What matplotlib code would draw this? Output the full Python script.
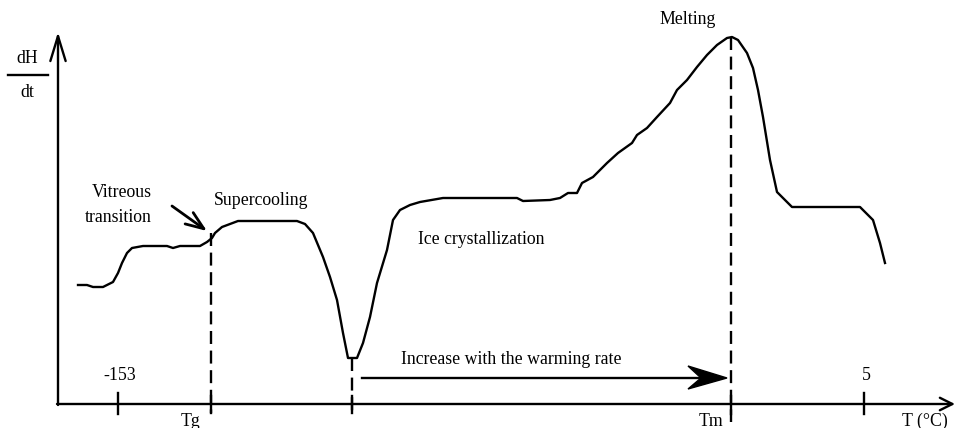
import matplotlib
matplotlib.use("Agg")
import matplotlib.pyplot as plt
from matplotlib.patches import Polygon

plt.rcParams['font.family'] = ['Liberation Serif', 'DejaVu Serif']

# schematic DSC curve (drawing coordinates: x to the right, y downward)
curve_x = [78, 87, 93, 103, 113, 118, 122, 127, 132, 143, 167, 173, 180, 200, 207,
           212, 215, 222, 230, 238, 297, 305, 313, 323, 330, 337, 343, 348, 357,
           363, 370, 377, 387, 393, 400, 410, 420, 443, 517, 523, 550, 560, 568,
           577, 582, 593, 607, 618, 632, 637, 647, 657, 670, 677, 687, 697, 707,
           717, 727, 732, 738, 747, 753, 758, 763, 770, 777, 792, 860, 873, 880, 885]
curve_y = [285, 285, 287, 287, 282, 273, 263, 253, 248, 246, 246, 248, 246, 246, 242,
           238, 233, 227, 224, 221, 221, 224, 233, 257, 277, 300, 333, 358, 358,
           343, 317, 283, 250, 220, 210, 205, 202, 198, 198, 201, 200, 198, 193,
           193, 183, 177, 163, 153, 143, 135, 128, 117, 103, 90, 80, 67, 55,
           45, 38, 37, 40, 53, 68, 90, 117, 160, 192, 207, 207, 220, 243, 263]

# axis geometry
x0, y0 = 58, 404
x_end, y_top = 955, 32

# solid ticks with labels above
tick_x = [118, 864]
tick_labels = ["-153", "5"]
# dashed marker lines
marker_x = [211, 352, 731]
marker_y0 = [233, 358, 37]
marker_y1 = [413, 413, 422]
marker_labels = ["Tg", "", "Tm"]
marker_label_dx = [-20, 0, -20]

fig = plt.figure(figsize=(9.56, 4.28), dpi=100)
ax = fig.add_axes([0, 0, 1, 1])
ax.set_xlim(0, 956)
ax.set_ylim(428, 0)
ax.axis('off')

lw = 1.7
fs = 12.8

# axes with open arrow heads
ax.annotate("", xy=(x0, y_top), xytext=(x0, y0 + 1),
            arrowprops=dict(arrowstyle="->,head_length=1.8,head_width=0.55",
                            lw=lw, color='black', shrinkA=0, shrinkB=0))
ax.annotate("", xy=(x_end, y0), xytext=(x0 - 1, y0),
            arrowprops=dict(arrowstyle="->,head_length=0.9,head_width=0.45",
                            lw=lw, color='black', shrinkA=0, shrinkB=0))

# curve
ax.plot(curve_x, curve_y, color='black', lw=lw, solid_joinstyle='round')

# ticks
for tx, tl in zip(tick_x, tick_labels):
    ax.plot([tx, tx], [y0 - 11, y0 + 10], color='black', lw=lw)
    ax.text(tx + 2, y0 - 28, tl, ha='center', va='center', fontsize=fs)

# dashed markers
for mx, my0, my1 in zip(marker_x, marker_y0, marker_y1):
    ax.plot([mx, mx], [my0, my1], color='black', lw=lw, linestyle=(0, (5.5, 2.8)))
    ax.plot([mx, mx], [y0 - 8, my1 if my1 < 420 else y0 + 10], color='black', lw=lw)
for mx, ml, dx in zip(marker_x, marker_labels, marker_label_dx):
    if ml:
        ax.text(mx + dx, 421, ml, ha='center', va='center', fontsize=fs)

# dH/dt label
ax.text(27, 58, "dH", ha='center', va='center', fontsize=fs)
ax.plot([8, 48], [75, 75], color='black', lw=lw)
ax.text(27, 92, "dt", ha='center', va='center', fontsize=fs)

# annotations
ax.text(122, 192, "Vitreous", ha='center', va='center', fontsize=fs)
ax.text(118, 217, "transition", ha='center', va='center', fontsize=fs)
ax.annotate("", xy=(207, 231), xytext=(172, 206),
            arrowprops=dict(arrowstyle="->,head_length=1.3,head_width=0.5",
                            lw=lw + 0.3, color='black', shrinkA=0, shrinkB=0))
ax.text(261, 200, "Supercooling", ha='center', va='center', fontsize=fs)
ax.text(481, 239, "Ice crystallization", ha='center', va='center', fontsize=fs)
ax.text(688, 19, "Melting", ha='center', va='center', fontsize=fs)
ax.text(511, 360, "Increase with the warming rate", ha='center', va='center', fontsize=fs)
ax.text(925, 421, "T (°C)", ha='center', va='center', fontsize=fs)

# warming-rate arrow with stealth head
arr_x0, arr_x1, arr_y = 362, 727, 378
ax.plot([arr_x0, arr_x1 - 25], [arr_y, arr_y], color='black', lw=lw)
ax.add_patch(Polygon([(arr_x1, arr_y), (arr_x1 - 39, arr_y - 12), (arr_x1 - 26, arr_y),
                      (arr_x1 - 39, arr_y + 11)], closed=True, color='black'))

fig.savefig("out.png", dpi=100)
